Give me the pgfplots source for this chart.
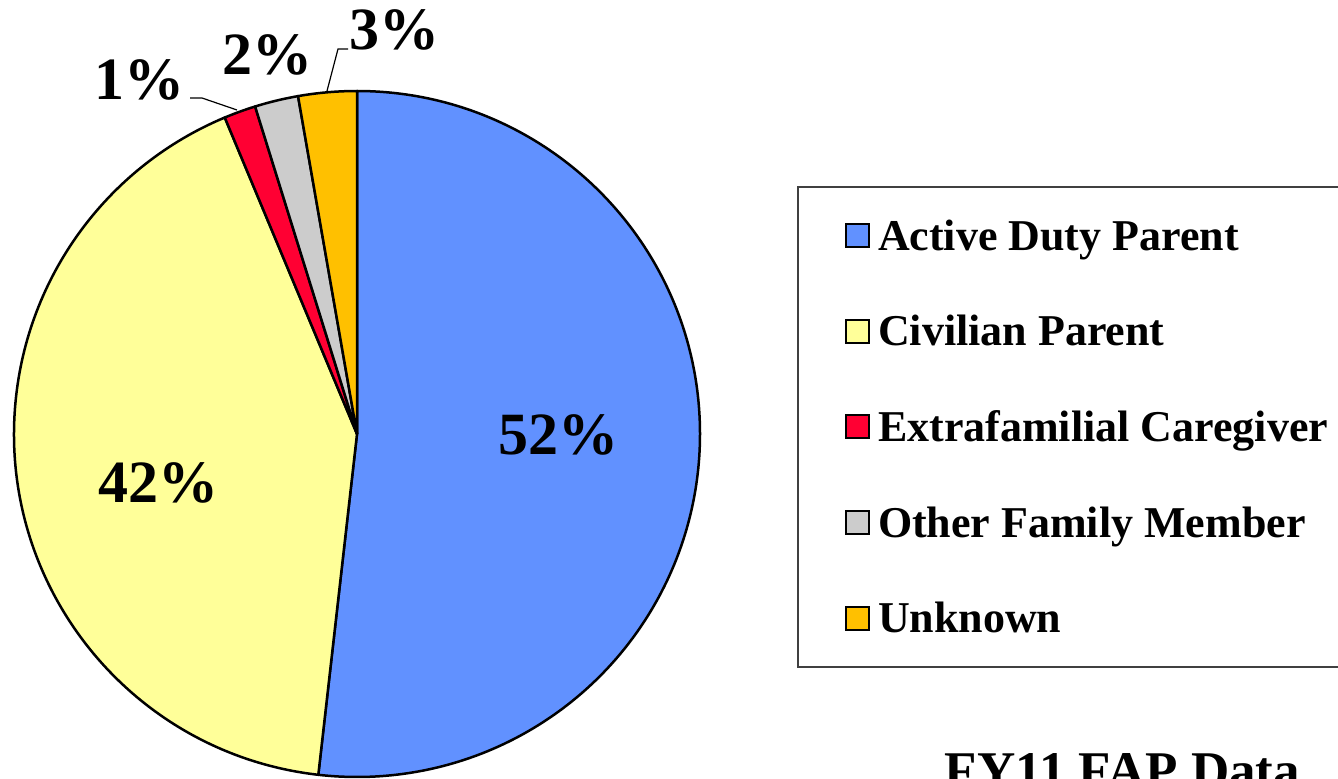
\documentclass[border=0pt]{standalone}
\usepackage{pgfplots}
\pgfplotsset{compat=1.18}
\usepackage{pgfplotstable}
\usepackage{fontspec}
\setmainfont{Liberation Serif}
\definecolor{cblue}{RGB}{97,145,255}
\definecolor{cyellow}{RGB}{255,255,153}
\definecolor{cred}{RGB}{255,0,51}
\definecolor{cgray}{RGB}{204,204,204}
\definecolor{corange}{RGB}{255,192,0}
% pie shares (percent), clockwise from 12 o'clock
\pgfplotstableread{
name value
Active 51.8
Civilian 41.9
Extra 1.5
Other 2.05
Unknown 2.75
}\piedata
\begin{document}
\begin{tikzpicture}
\pgfplotstablegetelem{0}{value}\of\piedata \let\vA\pgfplotsretval
\pgfplotstablegetelem{1}{value}\of\piedata \let\vB\pgfplotsretval
\pgfplotstablegetelem{2}{value}\of\piedata \let\vC\pgfplotsretval
\pgfplotstablegetelem{3}{value}\of\piedata \let\vD\pgfplotsretval
\pgfplotstablegetelem{4}{value}\of\piedata \let\vE\pgfplotsretval
\pgfmathsetmacro{\aA}{90}
\pgfmathsetmacro{\aB}{\aA-3.6*\vA}
\pgfmathsetmacro{\aC}{\aB-3.6*\vB}
\pgfmathsetmacro{\aD}{\aC-3.6*\vC}
\pgfmathsetmacro{\aE}{\aD-3.6*\vD}
\pgfmathsetmacro{\aF}{\aE-3.6*\vE}
\useasboundingbox (0,0) rectangle (669pt,389pt);
\begin{axis}[at={(0,0)}, anchor=south west, scale only axis,
  width=669pt, height=389pt, xmin=0, xmax=1338, ymin=0, ymax=778,
  hide axis, clip=false,
  legend image code/.code={\path[draw=none, fill=none] (0pt,0pt) rectangle (16pt,11pt);
     \draw[#1, draw=black, line width=1pt] (0pt,1.5pt) rectangle (11.5pt,13pt);},
  legend style={at={(axis cs:845,560)}, anchor=north west, draw=none, fill=none,
     inner sep=0pt, outer sep=0pt, row sep=26.85pt,
     font=\fontsize{22}{22}\selectfont\bfseries,
     nodes={inner sep=0pt, anchor=base west, text height=16pt, text depth=5pt}},
]
\addlegendimage{fill=cblue}\addlegendentry{Active Duty Parent}
\addlegendimage{fill=cyellow}\addlegendentry{Civilian Parent}
\addlegendimage{fill=cred}\addlegendentry{Extrafamilial Caregiver}
\addlegendimage{fill=cgray}\addlegendentry{Other Family Member}
\addlegendimage{fill=corange}\addlegendentry{Unknown}
% wedges
\filldraw[fill=cblue, draw=black, line width=1.25pt, line join=round] (axis cs:357,344) -- ++(\aA:171.5pt) arc[start angle=\aA, end angle=\aB, radius=171.5pt] -- cycle;
\filldraw[fill=cyellow, draw=black, line width=1.25pt, line join=round] (axis cs:357,344) -- ++(\aB:171.5pt) arc[start angle=\aB, end angle=\aC, radius=171.5pt] -- cycle;
\filldraw[fill=cred, draw=black, line width=1.25pt, line join=round] (axis cs:357,344) -- ++(\aC:171.5pt) arc[start angle=\aC, end angle=\aD, radius=171.5pt] -- cycle;
\filldraw[fill=cgray, draw=black, line width=1.25pt, line join=round] (axis cs:357,344) -- ++(\aD:171.5pt) arc[start angle=\aD, end angle=\aE, radius=171.5pt] -- cycle;
\filldraw[fill=corange, draw=black, line width=1.25pt, line join=round] (axis cs:357,344) -- ++(\aE:171.5pt) arc[start angle=\aE, end angle=\aF, radius=171.5pt] -- cycle;
% leader lines
\draw[black, line width=0.6pt] (axis cs:190,680) -- (axis cs:202,680) -- (axis cs:237,668);
\draw[black, line width=0.6pt] (axis cs:348,729) -- (axis cs:338,729) -- (axis cs:327,687);
% labels
\node[anchor=base, inner sep=0pt, font=\fontsize{30}{30}\selectfont\bfseries] at (axis cs:139,678) {1\%};
\node[anchor=base, inner sep=0pt, font=\fontsize{30}{30}\selectfont\bfseries] at (axis cs:267.5,703) {2\%};
\node[anchor=base, inner sep=0pt, font=\fontsize{30}{30}\selectfont\bfseries] at (axis cs:394.5,728) {3\%};
\node[anchor=base, inner sep=0pt, font=\fontsize{30}{30}\selectfont\bfseries] at (axis cs:558.5,324) {52\%};
\node[anchor=base, inner sep=0pt, font=\fontsize{30}{30}\selectfont\bfseries] at (axis cs:158,276) {42\%};
% legend frame
\draw[black!75, line width=0.6pt] (axis cs:798,591) rectangle (axis cs:1400,111);
% caption (cut off at bottom, as in the reference)
\node[anchor=base, inner sep=0pt, font=\fontsize{26.5}{26.5}\selectfont\bfseries] at (axis cs:1122.5,-10) {FY11 FAP Data};
\end{axis}
\end{tikzpicture}
\end{document}
